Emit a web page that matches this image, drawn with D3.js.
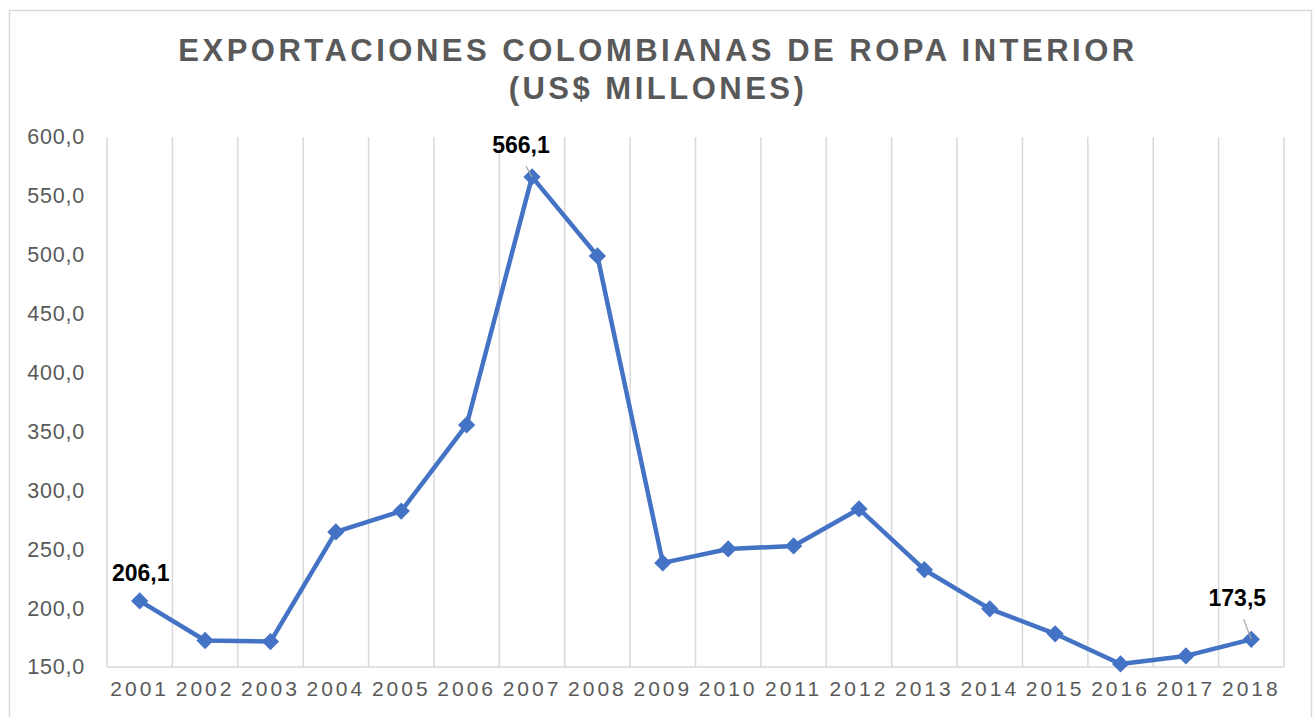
<!DOCTYPE html>
<html>
<head>
<meta charset="utf-8">
<script src="https://cdn.jsdelivr.net/npm/d3@7"></script>
<style>
  body { margin: 0; background: #fff; }
  svg { font-family: "Liberation Sans", Arial, sans-serif; }
</style>
</head>
<body>
<div id="container"></div>
<script>
let w = 1313;
let h = 717;

// data
let years = ["2001","2002","2003","2004","2005","2006","2007","2008","2009","2010","2011","2012","2013","2014","2015","2016","2017","2018"];
let values = [206.1, 172.5, 171.6, 264.7, 282.4, 355.5, 566.1, 499.0, 238.4, 250.2, 252.8, 284.2, 232.6, 199.4, 178.2, 152.6, 159.4, 173.5];
let yTicks = [150, 200, 250, 300, 350, 400, 450, 500, 550, 600];
let labelled = ["2001", "2007", "2018"];

let margin = {left: 107, right: 29, top: 137, bottom: 50};

let viz = d3.select("#container").append("svg")
    .attr("width", w)
    .attr("height", h);

// chart border
viz.append("rect")
  .attr("x", 9.5).attr("y", 10.5)
  .attr("width", 1302).attr("height", 720)
  .attr("fill", "white")
  .attr("stroke", "#d9d9d9")
  .attr("stroke-width", 1.5);

// title
let title = viz.append("text")
  .attr("text-anchor", "middle")
  .attr("fill", "#595959")
  .style("font-size", "31px")
  .style("font-weight", "bold")
  .style("letter-spacing", "3.5px");
title.append("tspan").attr("x", 658).attr("y", 61).text("EXPORTACIONES COLOMBIANAS DE ROPA INTERIOR");
title.append("tspan").attr("x", 658).attr("y", 99).text("(US$ MILLONES)");

let x = d3.scaleBand()
  .domain(years)
  .range([margin.left, w - margin.right]);

let y = d3.scaleLinear()
  .domain([150, 600])
  .range([h - margin.bottom, margin.top]);

// vertical gridlines at category boundaries
let bounds = years.map(d => x(d)).concat([x.range()[1]]);
viz.selectAll(".vgrid").data(bounds).enter()
  .append("line")
    .attr("class", "vgrid")
    .attr("x1", d => d).attr("x2", d => d)
    .attr("y1", y(600)).attr("y2", y(150))
    .attr("stroke", "#d9d9d9")
    .attr("stroke-width", 1.5);

// bottom axis line
viz.append("line")
  .attr("x1", x.range()[0]).attr("x2", x.range()[1])
  .attr("y1", y(150)).attr("y2", y(150))
  .attr("stroke", "#d9d9d9")
  .attr("stroke-width", 1.5);

// y labels
let yAxis = viz.append("g")
  .attr("transform", "translate(" + (margin.left - 19) + ",0)")
  .call(d3.axisLeft(y).tickValues(yTicks).tickSize(0).tickFormat(d => d3.format(".1f")(d).replace(".", ",")));
yAxis.select(".domain").remove();
yAxis.selectAll("text")
  .attr("fill", "#595959")
  .style("font-size", "21.5px")
  .style("letter-spacing", "0.8px")
  .style("font-family", "Liberation Sans, Arial, sans-serif");

// x labels
let xAxis = viz.append("g")
  .attr("transform", "translate(0," + (y(150) + 11) + ")")
  .call(d3.axisBottom(x).tickSize(0));
xAxis.select(".domain").remove();
xAxis.selectAll("text")
  .attr("fill", "#595959")
  .style("font-size", "21px")
  .style("letter-spacing", "3px")
  .style("font-family", "Liberation Sans, Arial, sans-serif");

let cx = d => x(d) + x.bandwidth() / 2;

// line
let lineMaker = d3.line()
  .x((d, i) => cx(years[i]))
  .y(d => y(d));

viz.append("path")
  .datum(values)
  .attr("d", lineMaker)
  .attr("fill", "none")
  .attr("stroke", "#4472c4")
  .attr("stroke-width", 4.5)
  .attr("stroke-linejoin", "round");

// markers
viz.selectAll(".marker").data(values).enter()
  .append("path")
    .attr("class", "marker")
    .attr("d", d3.symbol().type(d3.symbolDiamond2).size(190))
    .attr("transform", (d, i) => "translate(" + cx(years[i]) + "," + y(d) + ")")
    .attr("fill", "#4472c4");

// data labels
let lab = years.map((d, i) => ({year: d, value: values[i]})).filter(d => labelled.includes(d.year));
let offsets = {"2001": [1, -20, false], "2007": [-11, -24, true], "2018": [-14, -33, true]};

lab.forEach(function(d){
  let o = offsets[d.year];
  let px = cx(d.year), py = y(d.value);
  if (o[2]) {
    viz.append("line")
      .attr("x1", px + o[0] * 0.55).attr("y1", py + o[1] + 13)
      .attr("x2", px).attr("y2", py)
      .attr("stroke", "#a6a6a6")
      .attr("stroke-width", 1.2);
  }
  viz.append("text")
    .attr("x", px + o[0])
    .attr("y", py + o[1])
    .attr("text-anchor", "middle")
    .style("font-size", "23px")
    .style("font-weight", "bold")
    .attr("fill", "black")
    .text(d3.format(".1f")(d.value).replace(".", ","));
});
</script>
</body>
</html>
